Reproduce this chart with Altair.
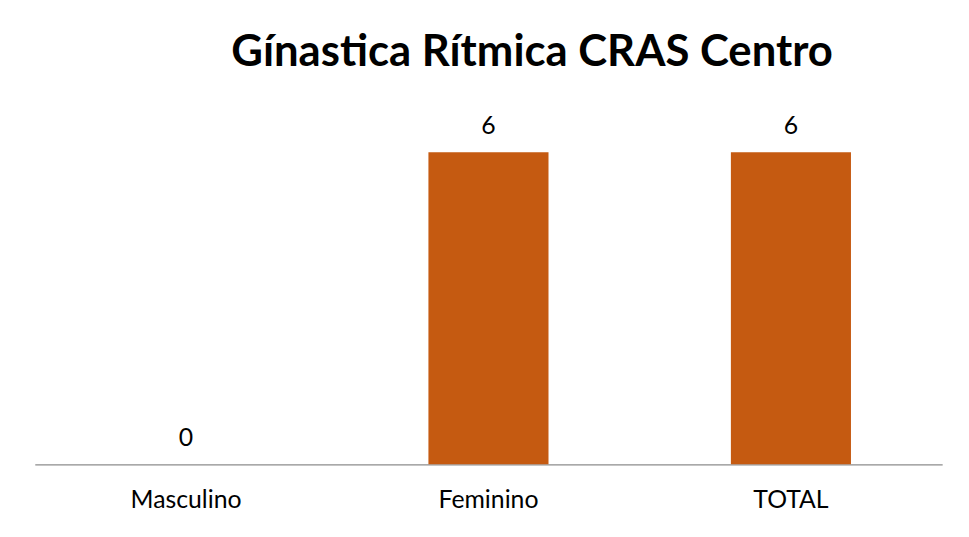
import altair as alt
import pandas as pd

categories = ["Masculino", "Feminino", "TOTAL"]
values = [0, 6, 6]

df = pd.DataFrame({"categoria": categories, "valor": values})

FONT = "Lato"

base = alt.Chart(df).encode(
    x=alt.X("categoria:N", sort=categories, title=None,
            scale=alt.Scale(paddingInner=0.603, paddingOuter=0.3015, round=False),
            axis=alt.Axis(labelAngle=0, labelFontSize=25, labelFont=FONT,
                          labelColor="#000000", labelPadding=44,
                          labelBaseline="alphabetic", ticks=False,
                          domainColor="#8c8c8c", domainWidth=1.3)),
    y=alt.Y("valor:Q", title=None, scale=alt.Scale(domain=[0, 7], nice=False),
            axis=None),
)

bars = base.mark_bar(color="#C55A11")
labels = base.mark_text(baseline="alphabetic", dy=-18, fontSize=25, font=FONT,
                        color="#000000").encode(text="valor:Q")

chart = (bars + labels).properties(
    width=915,
    height=367,
    title=alt.TitleParams("Gínastica Rítmica CRAS Centro", fontSize=44,
                          font=FONT, fontWeight="bold", color="#000000",
                          anchor="middle", dx=44, offset=26),
    padding={"left": 27, "top": 91, "right": 19, "bottom": 50},
    autosize=alt.AutoSizeParams(type="none"),
).configure(background="#ffffff").configure_view(strokeWidth=0, stroke="transparent")

chart.save("out.html", embed_options={"renderer": "svg", "actions": False})
